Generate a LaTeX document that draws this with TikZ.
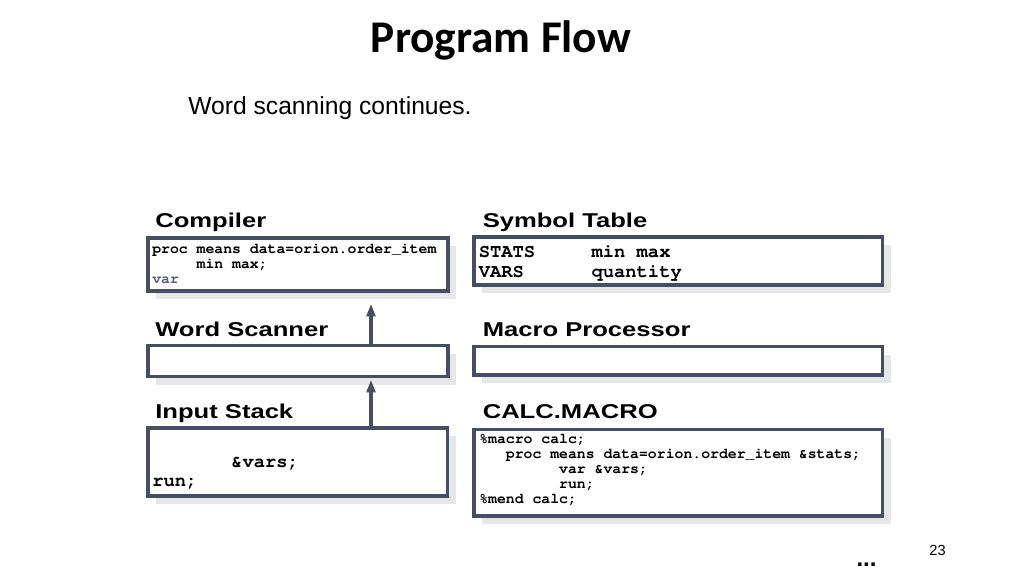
\documentclass[tikz,border=0pt]{standalone}
\usepackage[T1,TU]{fontenc}
\usepackage{fontspec}
\usepackage{tikz}
\usetikzlibrary{arrows.meta,shadows,fit}
\setmainfont{Liberation Sans}
\setmonofont{Liberation Mono}
\newfontfamily\titlefont{Carlito}
\newfontfamily\headfont[FakeStretch=1.28]{Liberation Sans}
\newcommand\courierbold{\fontencoding{T1}\fontfamily{pcr}\fontseries{b}\selectfont}
\definecolor{slate}{RGB}{69,78,101}
\definecolor{shade}{RGB}{231,231,233}
\definecolor{fadeblue}{RGB}{84,96,128}
\tikzset{
  panel/.style={draw=slate, line width=2.5pt, fill=white, inner sep=0pt,
    drop shadow={shadow xshift=6pt, shadow yshift=-6pt, fill=shade, opacity=1}},
  heading/.style={inner sep=0pt, anchor=base west, font=\headfont\bfseries\fontsize{15}{18}\selectfont},
  smallcode/.style={inner sep=0pt, anchor=north west, align=left, font=\courierbold\fontsize{11.1}{11.25}\selectfont},
  bigcode/.style={inner sep=0pt, anchor=north west, align=left, font=\courierbold\fontsize{14.1}{14.5}\selectfont},
  flow/.style={draw=slate, line width=2.3pt, -{Triangle[length=9.5pt,width=6.5pt]}}
}
\begin{document}
\begin{tikzpicture}[x=0.75pt,y=-0.75pt]
\fill[white] (0,0) rectangle (1024,576);
\useasboundingbox (0,0) rectangle (1024,576);

%Title and caption
\node[inner sep=0pt, anchor=base, font=\titlefont\bfseries\fontsize{34}{40}\selectfont] (title) at (501,52.7) {Program Flow};
\node[inner sep=0pt, anchor=base west, font=\fontsize{18.5}{22}\selectfont] (caption) at (188,114.3) {Word scanning continues.};

%Boxes
\node[panel, fit={(148,238) (448,291)}] (compiler) {};
\node[panel, fit={(474,237) (882.5,285)}] (symtab) {};
\node[panel, fit={(148,345.5) (448,376.5)}] (scanner) {};
\node[panel, fit={(474,346.5) (882.5,375)}] (macproc) {};
\node[panel, fit={(148,428) (447.5,496)}] (instack) {};
\node[panel, fit={(474,429.5) (882.5,516)}] (calcmac) {};

%Headings
\node[heading] (compilerlab) at (155,227.3) {Compiler};
\node[heading] (symtablab) at (482.5,227.3) {Symbol Table};
\node[heading] (scannerlab) at (155,336.5) {Word Scanner};
\node[heading] (macproclab) at (482.5,336.7) {Macro Processor};
\node[heading] (instacklab) at (155,418.3) {Input Stack};
\node[heading] (calcmaclab) at (482.5,418) {CALC.MACRO};

%Box contents
\node[smallcode] (compilertxt) at (152,243) {proc means data=orion.order\_item\\~~~~~min max;\\\textcolor{fadeblue}{var}};
\node[bigcode] (symtabtxt) at (478.5,245) {STATS~~~~~min max\\VARS~~~~~~quantity};
\node[bigcode] (instacktxt) at (152,456.7) {~~~~~~~\&vars;\\run;};
\node[smallcode] (calcmactxt) at (479,434) {\%macro calc;\\~~~proc means data=orion.order\_item \&stats;\\~~~~~~~~~var \&vars;\\~~~~~~~~~run;\\\%mend calc;};

%Word flow
\coordinate (tap) at (371,0);
\draw[flow, shorten >=8.25pt] (scanner.north -| tap) -- (compiler.south -| tap);
\draw[flow, shorten >=1.2pt] (instack.north -| tap) -- (scanner.south -| tap);

%Page footer
\node[inner sep=0pt, anchor=base, font=\fontsize{11}{13}\selectfont] (pagenum) at (937.5,555) {23};
\node[inner sep=0pt, anchor=base, font=\bfseries\fontsize{18}{20}\selectfont] (more) at (866.5,566) {...};
\end{tikzpicture}
\end{document}
